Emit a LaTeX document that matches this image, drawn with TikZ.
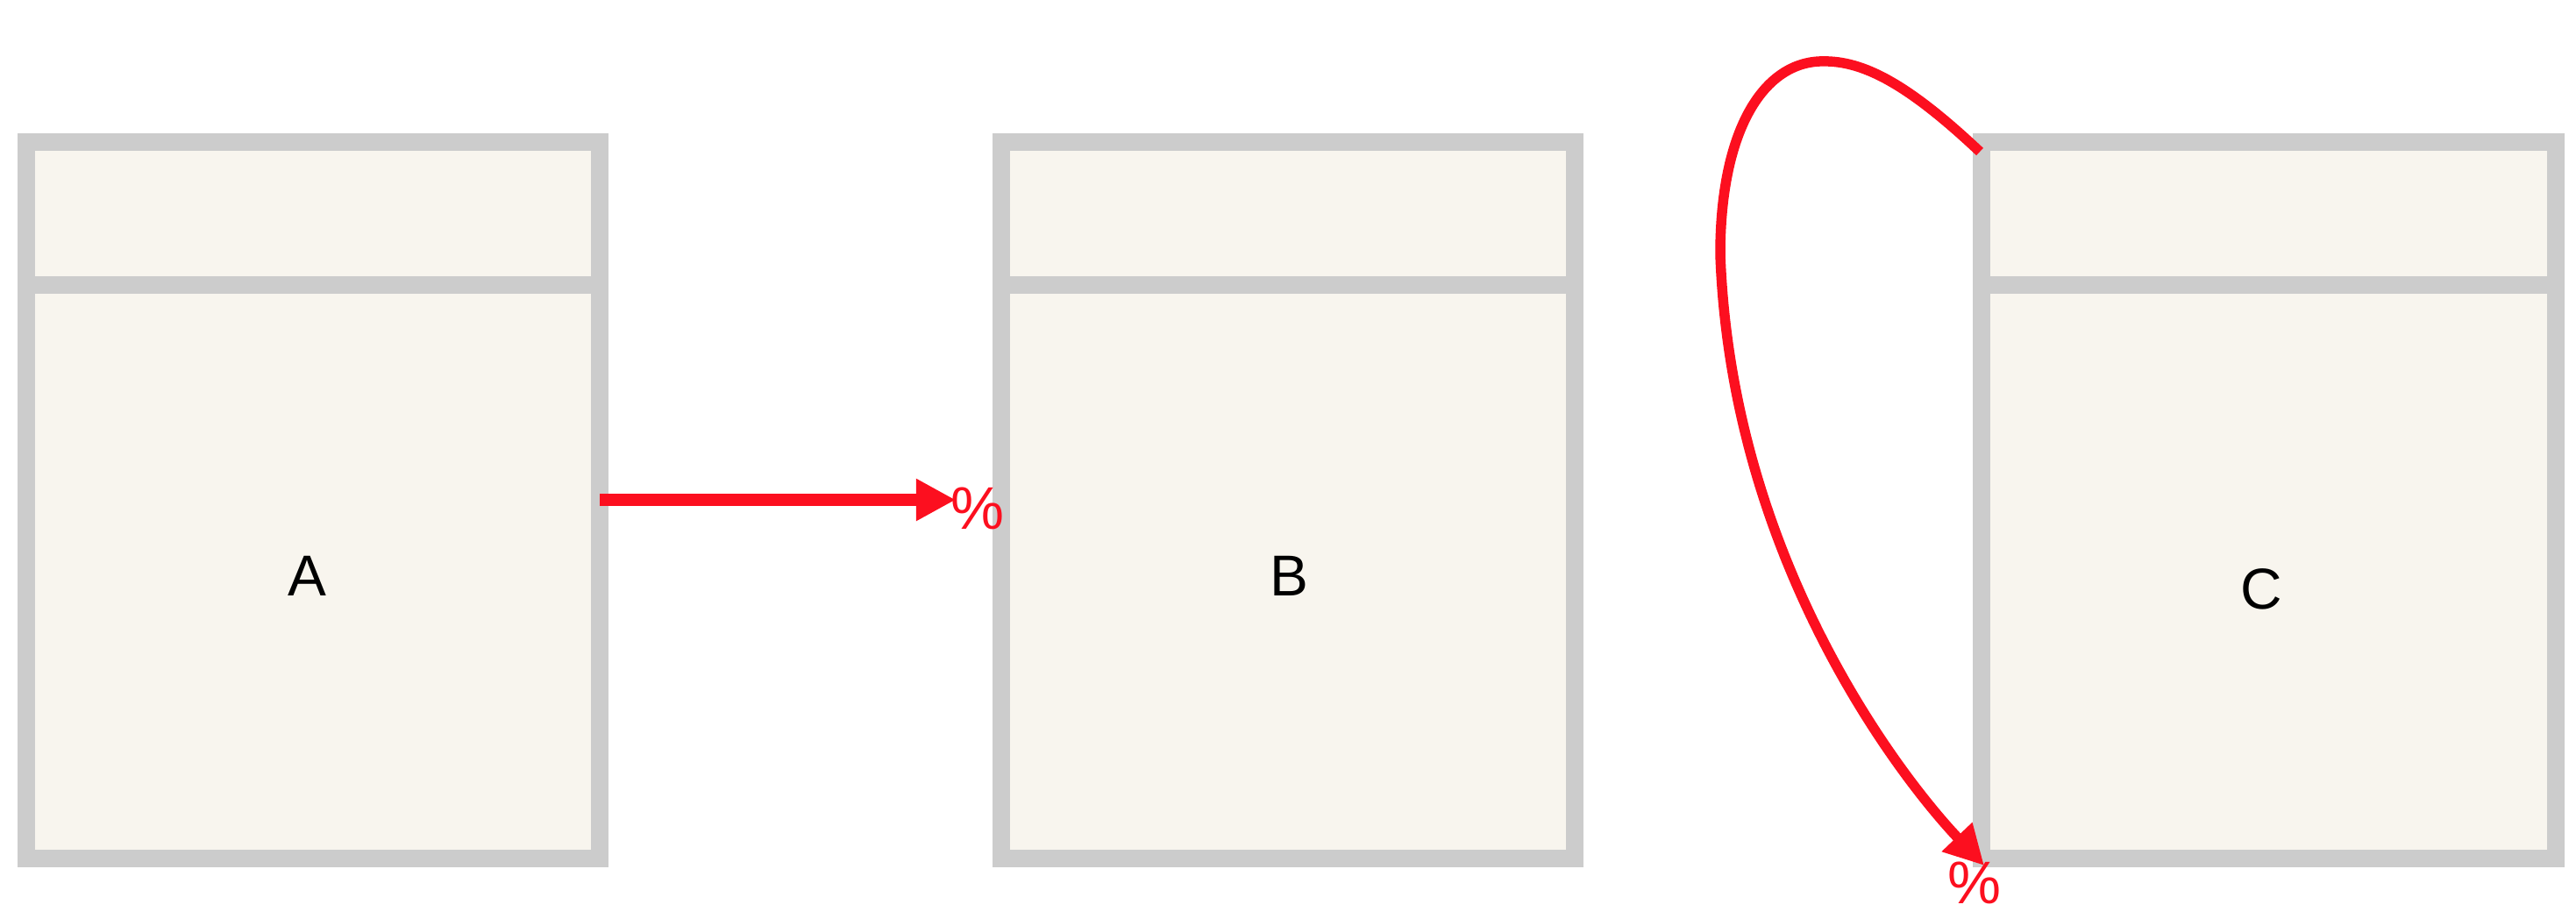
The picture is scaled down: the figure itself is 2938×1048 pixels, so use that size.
\documentclass[tikz,border=0pt]{standalone}
\usepackage{fontspec}
\setmainfont{Liberation Sans}
\usetikzlibrary{arrows.meta}
\definecolor{boxgray}{HTML}{CCCCCC}
\definecolor{boxfill}{HTML}{F8F5EE}
\definecolor{linkred}{HTML}{FC0F1F}
\tikzset{
  panel/.style={rectangle,draw=boxgray,fill=boxfill,line width=0.2cm,inner sep=0pt,outer sep=0pt,minimum width=6.54cm},
  tblhead/.style={panel,minimum height=1.63cm},
  tblbody/.style={panel,minimum height=6.54cm},
  tbllabel/.style={font=\fontsize{18.7}{22}\selectfont},
  pct/.style={text=linkred,inner sep=0pt,font=\fontsize{19.5}{22}\selectfont},
  link/.style={draw=linkred,->},
}
\begin{document}
\begin{tikzpicture}[x=0.01cm,y=-0.01cm,line cap=butt,line join=miter,>={Triangle[length=0.45cm,width=0.45cm]}]
	\useasboundingbox (0,0) rectangle (2938,1048);
	% the three tables
	\node[tblbody] (Abody) at (357,652) {};
	\node[tblhead] (Ahead) at (357,243.5) {};
	\node[tblbody] (Bbody) at (1469,652) {};
	\node[tblhead] (Bhead) at (1469,243.5) {};
	\node[tblbody] (Cbody) at (2587.5,652) {};
	\node[tblhead] (Chead) at (2587.5,243.5) {};
	\node[tbllabel] (A) at (350,657) {A};
	\node[tbllabel] (B) at (1470,657) {B};
	\node[tbllabel] (C) at (2579,672) {C};
	% links
	\path (1090,570)coordinate(tipB) (2258,173)coordinate(loopC) (2263,987)coordinate(tipC);
	\node[pct] (pctB) at (1115,580) {\%};
	\node[pct] (pctC) at (2252,1007) {\%};
	\draw[link,line width=0.14cm] (Abody.east |- tipB) -- (tipB);
	\draw[link,line width=0.115cm] (loopC) .. controls (2170,90) and (2120,68) .. (2075,70)
		.. controls (2010,73) and (1962,150) .. (1962,290)
		.. controls (1975,650) and (2180,900) .. (tipC);
\end{tikzpicture}
\end{document}
